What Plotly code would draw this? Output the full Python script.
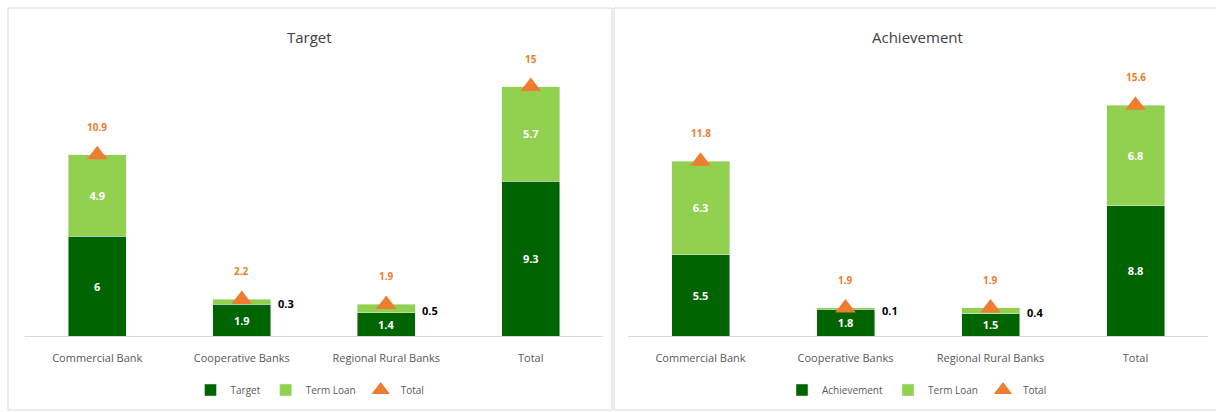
import plotly.graph_objects as go

categories = ["Commercial Bank", "Cooperative Banks", "Regional Rural Banks", "Total"]
target_base = [6, 1.9, 1.4, 9.3]
target_term = [4.9, 0.3, 0.5, 5.7]
target_total = [10.9, 2.2, 1.9, 15]
ach_base = [5.5, 1.8, 1.5, 8.8]
ach_term = [6.3, 0.1, 0.4, 6.8]
ach_total = [11.8, 1.9, 1.9, 15.6]

W, H = 1216, 412
DARK = "#006400"
LIGHT = "#92D050"
ORANGE = "#ED7D31"
FONT = "Liberation Sans Narrow, Open Sans, sans-serif"

fig = go.Figure()

def fx(px):
    return px / W

def fy(py):
    return (H - py) / H

panels = [
    dict(name="Target", base=target_base, term=target_term, total=target_total,
         xa="x", ya="y", legend="legend", dom=[fx(25), fx(603)], ymax=16.6, title_x=fx(310)),
    dict(name="Achievement", base=ach_base, term=ach_term, total=ach_total,
         xa="x2", ya="y2", legend="legend2", dom=[fx(628), fx(1208)], ymax=18.65, title_x=fx(917)),
]

annotations = []
for p in panels:
    fig.add_trace(go.Bar(
        x=categories, y=p["base"], name=p["name"], marker_color=DARK, width=0.4,
        text=[f"<b>{v}</b>" for v in p["base"]], textposition="inside", insidetextanchor="middle",
        textfont=dict(color="white", size=11, family=FONT), textangle=0,
        xaxis=p["xa"], yaxis=p["ya"], legend=p["legend"]))
    fig.add_trace(go.Bar(
        x=categories, y=p["term"], name="Term Loan", marker_color=LIGHT, width=0.4,
        text=[f"<b>{v}</b>" if v >= 1 else "" for v in p["term"]], textposition="inside",
        insidetextanchor="middle", textangle=0,
        textfont=dict(color="white", size=11, family=FONT),
        xaxis=p["xa"], yaxis=p["ya"], legend=p["legend"]))
    fig.add_trace(go.Scatter(
        x=categories, y=p["total"], name="Total", mode="markers",
        marker=dict(symbol="triangle-up", color=ORANGE, size=18),
        xaxis=p["xa"], yaxis=p["ya"], legend=p["legend"]))
    for c, b, t, tot in zip(categories, p["base"], p["term"], p["total"]):
        annotations.append(dict(x=c, y=tot, xref=p["xa"], yref=p["ya"], text=f"<b>{tot}</b>",
                                showarrow=False, yshift=28,
                                font=dict(color=ORANGE, size=10, family=FONT)))
        if t < 1:
            annotations.append(dict(x=c, y=b + t / 2, xref=p["xa"], yref=p["ya"], text=f"<b>{t}</b>",
                                    showarrow=False, xshift=44, yshift=-2,
                                    font=dict(color="black", size=11, family=FONT)))
    annotations.append(dict(x=p["title_x"], y=fy(37), xref="paper", yref="paper", text=p["name"],
                            xanchor="center", yanchor="middle", showarrow=False,
                            font=dict(color="#404040", size=15, family=FONT)))

ydom = [fy(336), fy(60)]
axis_common = dict(showgrid=False, zeroline=False, showline=True, linecolor="#d9d9d9",
                   linewidth=1, ticks="", ticklabelstandoff=12,
                   tickfont=dict(color="#595959", size=11, family=FONT),
                   range=[-0.5, 3.5], fixedrange=True)
yaxis_common = dict(showgrid=False, zeroline=False, showline=False, showticklabels=False,
                    domain=ydom, fixedrange=True)

shapes = [
    dict(type="rect", xref="paper", yref="paper", x0=fx(8), x1=fx(612), y0=fy(410), y1=fy(8),
         line=dict(color="#d9d9d9", width=1), fillcolor="rgba(0,0,0,0)"),
    dict(type="rect", xref="paper", yref="paper", x0=fx(614), x1=fx(1220), y0=fy(410), y1=fy(8),
         line=dict(color="#d9d9d9", width=1), fillcolor="rgba(0,0,0,0)"),
]

legend_common = dict(orientation="h", xanchor="center", yanchor="middle", y=fy(390),
                     font=dict(color="#595959", size=10, family=FONT),
                     bgcolor="rgba(0,0,0,0)", itemwidth=30, traceorder="normal")

fig.update_layout(
    width=W, height=H, barmode="stack", plot_bgcolor="white", paper_bgcolor="white",
    margin=dict(l=0, r=0, t=0, b=0), showlegend=True,
    xaxis=dict(domain=panels[0]["dom"], anchor="y", **axis_common),
    yaxis=dict(range=[0, panels[0]["ymax"]], anchor="x", **yaxis_common),
    xaxis2=dict(domain=panels[1]["dom"], anchor="y2", **axis_common),
    yaxis2=dict(range=[0, panels[1]["ymax"]], anchor="x2", **yaxis_common),
    legend=dict(x=fx(310), **legend_common),
    legend2=dict(x=fx(917), **legend_common),
    annotations=annotations, shapes=shapes, uniformtext=dict(mode=False),
)

fig.write_html("out.html", config={"displayModeBar": False},
               post_script="document.body.style.margin='0';")
